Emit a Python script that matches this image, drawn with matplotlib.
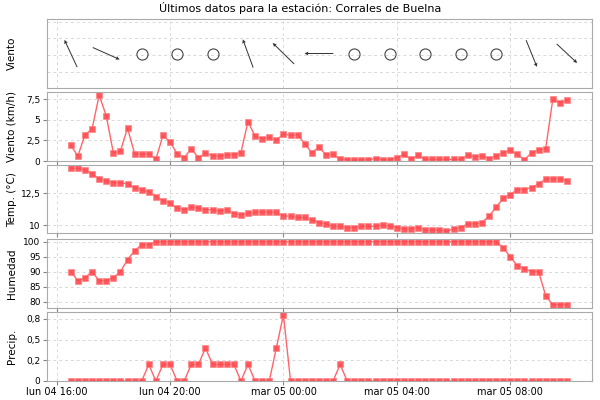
import numpy as np
import matplotlib
matplotlib.use("Agg")
import matplotlib.pyplot as plt
import matplotlib.dates as mdates
from datetime import datetime, timedelta

start = datetime(2024, 3, 4, 16, 30)
times = [start + timedelta(minutes=15 * i) for i in range(71)]

wind_speed = [1.9, 0.6, 3.2, 3.9, 8.0, 5.5, 1.0, 1.2, 4.0, 0.9, 0.8, 0.9, 0.2, 3.1, 2.3, 0.9,
              0.4, 1.5, 0.4, 1.0, 0.6, 0.6, 0.75, 0.75, 1.0, 4.8, 3.0, 2.7, 2.9, 2.5, 3.3, 3.1,
              3.2, 2.1, 1.0, 1.7,
              0.75, 0.8, 0.2, 0.15, 0.1, 0.15, 0.15, 0.3, 0.15, 0.15, 0.4, 0.8, 0.2, 0.7, 0.2,
              0.2, 0.2, 0.2, 0.2, 0.2, 0.7, 0.5, 0.6, 0.3, 0.6, 1.0, 1.3, 0.8, 0.15, 1.0, 1.35,
              1.5, 7.5, 7.1, 7.4]
temperature = [14.47, 14.47, 14.34, 14.03, 13.63, 13.45, 13.34, 13.34, 13.24, 12.95, 12.76, 12.63,
               12.24, 11.92, 11.71, 11.32, 11.21, 11.42, 11.32, 11.21, 11.21, 11.1, 11.21, 10.9,
               10.79, 10.92, 11.0, 11.0, 11.0, 11.0, 10.71, 10.71, 10.6, 10.6, 10.39, 10.2,
               10.1, 9.9, 9.9, 9.8, 9.8, 9.9, 9.9, 9.9, 10.0, 9.9, 9.8, 9.7, 9.7, 9.8, 9.6,
               9.6, 9.6, 9.5, 9.7, 9.8, 10.1, 10.1, 10.2, 10.7, 11.4, 12.1, 12.4, 12.8, 12.8,
               12.95, 13.24, 13.63, 13.63, 13.63, 13.5]
humidity = [90, 87, 88, 90, 87, 87, 88, 90, 94, 97, 99, 99] + [100] * 49 + \
           [98, 95, 92, 91, 90, 90, 82, 79, 79, 79]
precip = [0] * 11 + [0.2, 0, 0.2, 0.2, 0, 0, 0.2, 0.2, 0.4, 0.2, 0.2, 0.2, 0.2, 0, 0.2, 0, 0, 0,
                     0.4, 0.8, 0, 0, 0, 0, 0, 0, 0, 0.2] + [0] * 32

dir_idx = [0, 5, 10, 15, 20, 25, 30, 35, 40, 45, 50, 55, 60, 65, 70]
dir_u = [-12.7, 26.9, 0, 0, 0, -10.4, -21.5, -28.8, 0, 0, 0, 0, 0, 10.8, 20.4]
dir_v = [27.3, -12.0, 0, 0, 0, 28.3, 21.0, 0, 0, 0, 0, 0, 0, -26.7, -19.0]

tick_times = [datetime(2024, 3, 4, 16), datetime(2024, 3, 4, 20), datetime(2024, 3, 5, 0),
              datetime(2024, 3, 5, 4), datetime(2024, 3, 5, 8)]
tick_labels = ["lun 04 16:00", "lun 04 20:00", "mar 05 00:00", "mar 05 04:00", "mar 05 08:00"]

W, H = 600, 400
fig = plt.figure(figsize=(6, 4), dpi=100)
L, R = 46.7, 592
panels = [(19, 88), (92.3, 161), (165, 233.3), (239, 308), (312.3, 381)]
axes = []
for (t, b) in panels:
    ax = fig.add_axes([L / W, 1 - b / H, (R - L) / W, (b - t) / H])
    axes.append(ax)

red = "#ff4a50"
xlim = (datetime(2024, 3, 4, 15, 39), datetime(2024, 3, 5, 10, 53))
for ax in axes:
    ax.set_xlim(mdates.date2num(xlim[0]), mdates.date2num(xlim[1]))
    ax.set_xticks(mdates.date2num(tick_times))
    ax.grid(True, color="#d8d8d8", linestyle=(0, (3, 3)), linewidth=0.7)
    ax.set_axisbelow(True)
    for s in ax.spines.values():
        s.set_color("#aaaaaa")
    ax.tick_params(labelsize=6.5, length=3, color="#888888", pad=1.5)
    ax.tick_params(axis="x", labelbottom=False)
axes[-1].set_xticklabels(tick_labels)
axes[-1].tick_params(axis="x", labelbottom=True, labelsize=7)

# wind direction panel
ax = axes[0]
ax.set_ylim(0, 1)
ax.set_yticks([0.233, 0.476, 0.72, 0.96])
ax.tick_params(axis="y", labelleft=False, length=0)
ax.tick_params(axis="x", length=0)
tn = mdates.date2num(times)
xs = [tn[i] for i in dir_idx]
calm = [k for k in range(len(dir_idx)) if dir_u[k] == 0 and dir_v[k] == 0]
mov = [k for k in range(len(dir_idx)) if k not in calm]
ax.quiver([xs[k] for k in mov], [0.5] * len(mov), [dir_u[k] for k in mov], [dir_v[k] for k in mov],
          angles="uv", scale_units="dots", scale=1, pivot="middle", width=0.0018,
          headwidth=4, headlength=4, headaxislength=3.5, color="#333333")
ax.plot([xs[k] for k in calm], [0.5] * len(calm), "o", ms=8, mfc="none", mec="#444444", mew=0.8)
ax.set_ylabel("Viento", fontsize=7.5)

def series(ax, y):
    ax.plot(tn, y, "-", color=red, lw=1, alpha=0.85)
    ax.plot(tn, y, "s", color=red, ms=5, alpha=0.9, mec="#ff8080", mew=0.5)

series(axes[1], wind_speed)
axes[1].set_ylim(0, 8.35)
axes[1].set_yticks([0, 2.5, 5, 7.5])
axes[1].set_yticklabels(["0", "2,5", "5", "7,5"])
axes[1].set_ylabel("Viento (km/h)", fontsize=7.5)

series(axes[2], temperature)
axes[2].set_ylim(9.35, 14.73)
axes[2].set_yticks([10, 12.5])
axes[2].set_yticklabels(["10", "12,5"])
axes[2].set_ylabel("Temp. (°C)", fontsize=7.5)

series(axes[3], humidity)
axes[3].set_ylim(77.9, 100.9)
axes[3].set_yticks([80, 85, 90, 95, 100])
axes[3].set_ylabel("Humedad", fontsize=7.5)

series(axes[4], precip)
axes[4].set_ylim(0, 0.83)
axes[4].set_yticks([0, 0.25, 0.5, 0.75])
axes[4].set_yticklabels(["0", "0,2", "0,5", "0,8"])
axes[4].set_ylabel("Precip.", fontsize=7.5)

for ax in axes:
    ax.yaxis.set_label_coords(-0.055, 0.5)

fig.text(0.5, 1 - 8 / H, "Últimos datos para la estación: Corrales de Buelna",
         ha="center", va="center", fontsize=8)
fig.savefig("out.png", dpi=100)
